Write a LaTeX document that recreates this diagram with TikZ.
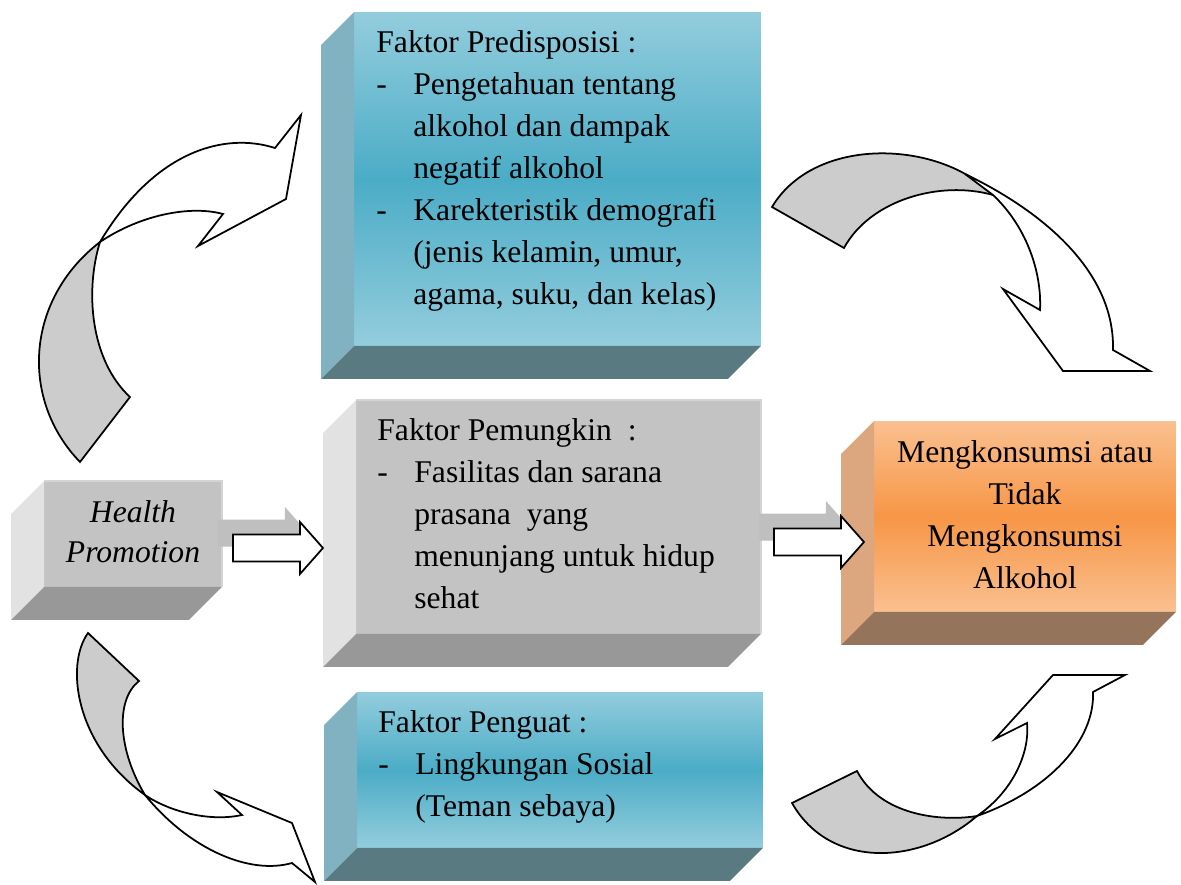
\documentclass[tikz,border=0pt]{standalone}
\usepackage{fontspec}
\setmainfont{Liberation Serif}
\usetikzlibrary{calc}

\definecolor{biruTerang}{HTML}{93CDDD}
\definecolor{biruTua}{HTML}{4BACC6}
\definecolor{biruSisi}{HTML}{80B2C2}
\definecolor{biruAlas}{HTML}{5A7A82}
\definecolor{abuMuka}{HTML}{C3C3C3}
\definecolor{abuSisi}{HTML}{E2E2E2}
\definecolor{abuAlas}{HTML}{989898}
\definecolor{abuTepi}{HTML}{D4D4D4}
\definecolor{oranyeTerang}{HTML}{FAC090}
\definecolor{oranyeTua}{HTML}{F79646}
\definecolor{oranyeSisi}{HTML}{DCA67E}
\definecolor{oranyeAlas}{HTML}{94745A}
\definecolor{panahAbu}{HTML}{CCCCCC}
\definecolor{bayangan}{HTML}{BFBFBF}

\tikzset{
  muka/.style={inner sep=0pt, outer sep=0pt},
  mukabiru/.style={muka, top color=biruTerang, bottom color=biruTerang, middle color=biruTua},
  mukaabu/.style={muka, fill=abuMuka},
  mukaoranye/.style={muka, top color=oranyeTerang, bottom color=oranyeTerang, middle color=oranyeTua},
  teks/.style={font=\fontsize{18}{22}\selectfont, inner sep=0pt},
  lengkung/.style={draw=black, line width=1pt},
  blok/.style={draw=black, line width=1pt, fill=white}
}

\begin{document}
\begin{tikzpicture}[x=0.02cm, y=-0.02cm]
\useasboundingbox (0,0) rectangle (1181,885);

% muka depan kotak
\node[mukabiru, minimum width=8.14cm, minimum height=6.68cm] (predis) at (557.5,179) {};
\node[mukaabu, minimum width=8.10cm, minimum height=4.68cm] (pemungkin) at (558.5,517) {};
\node[mukabiru, minimum width=8.12cm, minimum height=3.12cm] (penguat) at (560,770) {};
\node[mukaoranye, minimum width=6.04cm, minimum height=3.82cm] (hasil) at (1025,516.5) {};
\node[mukaabu, minimum width=3.56cm, minimum height=2.12cm] (hp) at (133,534) {};

% sisi kiri dan alas
\foreach \k/\ws/\wa in {predis/biruSisi/biruAlas, pemungkin/abuSisi/abuAlas,
                        penguat/biruSisi/biruAlas, hasil/oranyeSisi/oranyeAlas,
                        hp/abuSisi/abuAlas}
{
  \fill[fill=\ws] (\k.north west) -- (\k.south west) -- ++(-33,33)
        -- ($(\k.north west)+(-33,33)$) -- cycle;
  \fill[fill=\wa] (\k.south west) -- (\k.south east) -- ++(-33,33)
        -- ($(\k.south west)+(-33,33)$) -- cycle;
}
\foreach \k in {pemungkin, hp}
  \draw[abuTepi, line width=0.04cm] (\k.north west) -- (\k.north east) -- (\k.south east);

% isi kotak
\foreach [count=\i from 0] \s/\t in
                  {0/Faktor Predisposisi :,
                   1/Pengetahuan tentang,
                   2/alkohol dan dampak,
                   2/negatif alkohol,
                   1/Karekteristik demografi,
                   2/{(jenis kelamin, umur,},
                   2/{agama, suku, dan kelas)}}
  {
   \node [teks, anchor=base west, name=pre-\i]
         at ($(predis.north west)+({22+37*min(\s,1)},{40+42*\i})$) {\t};
   \ifnum\s=1 \node [teks, anchor=base west] at ($(predis.north west)+(22,{40+42*\i})$) {-};\fi
  }

\foreach [count=\i from 0] \s/\t in
                  {0/Faktor Pemungkin~~:,
                   1/Fasilitas dan sarana,
                   2/prasana~ yang,
                   2/menunjang untuk hidup,
                   2/sehat}
  {
   \node [teks, anchor=base west, name=pem-\i]
         at ($(pemungkin.north west)+({21+37*min(\s,1)},{40+42*\i})$) {\t};
   \ifnum\s=1 \node [teks, anchor=base west] at ($(pemungkin.north west)+(21,{40+42*\i})$) {-};\fi
  }

\foreach [count=\i from 0] \s/\t in
                  {0/Faktor Penguat :,
                   1/Lingkungan Sosial,
                   2/(Teman sebaya)}
  {
   \node [teks, anchor=base west, name=peng-\i]
         at ($(penguat.north west)+({21+37*min(\s,1)},{40+42*\i})$) {\t};
   \ifnum\s=1 \node [teks, anchor=base west] at ($(penguat.north west)+(21,{40+42*\i})$) {-};\fi
  }

\foreach [count=\i from 0] \t in {Mengkonsumsi atau, Tidak, Mengkonsumsi, Alkohol}
  \node [teks, anchor=base, name=has-\i] at ($(hasil.north)+(0,{41+42*\i})$) {\t};

\foreach [count=\i from 0] \t in {Health, Promotion}
  \node [teks, anchor=base, name=hp-\i] at ($(hp.north)+(0,{41+40*\i})$) {\textit{\t}};

% panah lengkung kiri atas
\filldraw[lengkung, fill=panahAbu] (80,462) .. controls (20,400) and (25,300) .. (100,242)
   .. controls (85,290) and (90,360) .. (130,397) -- cycle;
\filldraw[lengkung, fill=white] (100,242) .. controls (140,215) and (190,205) .. (223,214)
   -- (198,246) -- (286,199) -- (301,115) -- (275,148)
   .. controls (225,132) and (155,150) .. (100,242) -- cycle;

% panah lengkung kanan atas
\filldraw[lengkung, fill=panahAbu] (772,207) .. controls (815,135) and (940,140) .. (993,195)
   .. controls (940,180) and (870,200) .. (844,248) -- cycle;
\filldraw[lengkung, fill=white] (965,174) .. controls (1040,210) and (1115,270) .. (1113,350)
   -- (1150,371) -- (1063,371) -- (1003,289) -- (1040,310)
   .. controls (1042,270) and (1025,225) .. (993,195) -- cycle;

% panah lengkung kiri bawah
\filldraw[lengkung, fill=panahAbu] (88,633) .. controls (65,665) and (75,745) .. (145,795)
   .. controls (118,750) and (115,700) .. (139,681) -- cycle;
\filldraw[lengkung, fill=white] (145,795) .. controls (190,850) and (250,875) .. (292,863)
   -- (315,882) -- (292,823) -- (217,792) -- (242,815)
   .. controls (210,822) and (170,812) .. (145,795) -- cycle;

% panah lengkung kanan bawah
\filldraw[lengkung, fill=panahAbu] (857,771) .. controls (880,815) and (940,822) .. (977,816)
   .. controls (920,865) and (830,870) .. (792,803) -- cycle;
\filldraw[lengkung, fill=white] (977,816) .. controls (1015,790) and (1030,750) .. (1027,723)
   -- (995,739) -- (1053,675) -- (1125,675) -- (1093,692)
   .. controls (1095,740) and (1050,790) .. (977,816) -- cycle;

% panah blok
\coordinate (e1) at ($(hp.east)+(11,14)$);
\coordinate (e2) at ($(pemungkin.east)+(13,25)$);
\foreach \e in {e1, e2}
  {
   \fill[bayangan] (\e) ++(-15,-28.5) -- ++(67,0) -- ++(0,-12.5) -- ++(23,26)
        -- ++(-23,26) -- ++(0,-12.5) -- ++(-67,0) -- cycle;
   \draw[blok] (\e) ++(0,-13.5) -- ++(67,0) -- ++(0,-12.5) -- ++(23,26)
        -- ++(-23,26) -- ++(0,-12.5) -- ++(-67,0) -- cycle;
  }

\end{tikzpicture}
\end{document}
